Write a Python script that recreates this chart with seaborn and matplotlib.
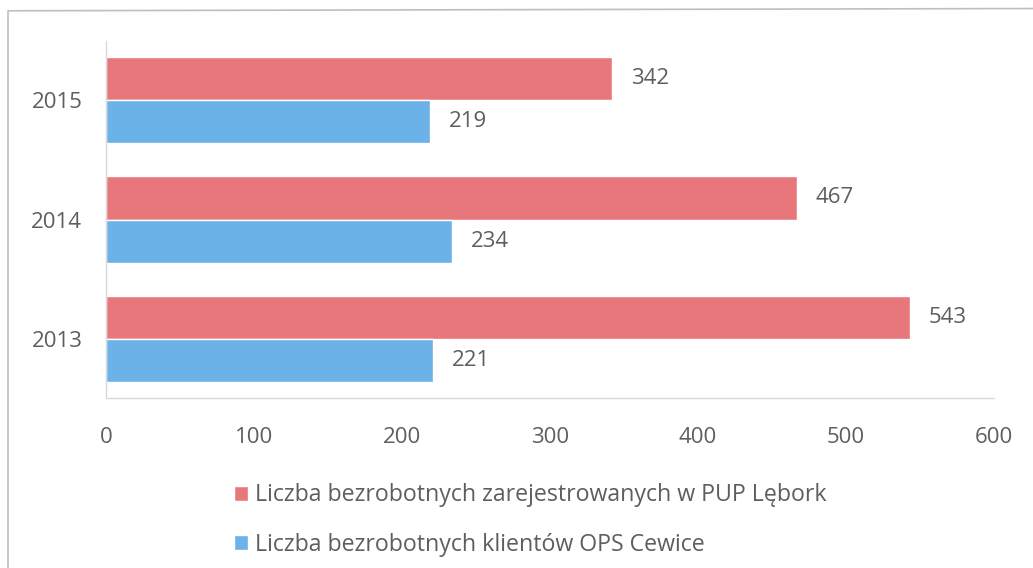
import matplotlib
matplotlib.use("Agg")
import matplotlib.pyplot as plt
import seaborn as sns
import pandas as pd
from matplotlib.lines import Line2D

years = ["2015", "2014", "2013"]
pup_values = [342, 467, 543]
ops_values = [219, 234, 221]
series_names = ["Liczba bezrobotnych zarejestrowanych w PUP Lębork",
                "Liczba bezrobotnych klientów OPS Cewice"]
x_ticks = [0, 100, 200, 300, 400, 500, 600]

df = pd.DataFrame({
    "year": years * 2,
    "value": pup_values + ops_values,
    "series": [series_names[0]] * 3 + [series_names[1]] * 3,
})

sns.set_theme(style="white")
plt.rcParams["font.family"] = ["Open Sans", "DejaVu Sans"]

fig = plt.figure(figsize=(10.33, 5.68), dpi=100)
ax = fig.add_axes([0.1026, 0.2993, 0.8597, 0.6285])

palette = ["#E8777C", "#6AB2E7"]
sns.barplot(data=df, x="value", y="year", hue="series", order=years,
            hue_order=series_names, palette=palette, orient="h",
            width=0.72, saturation=1, ax=ax, legend=True)

text_color = "#5E5E5E"
for cont in ax.containers:
    ax.bar_label(cont, labels=[f"{v:g}" for v in cont.datavalues],
                 padding=13.5, fontsize=16, color=text_color)

ax.set_xlim(0, 600)
ax.set_ylim(2.49, -0.49)
ax.set_xticks(x_ticks)
ax.set_xticklabels([str(t) for t in x_ticks])
ax.tick_params(axis="both", length=0, labelsize=16, labelcolor=text_color)
ax.tick_params(axis="x", pad=21)
ax.tick_params(axis="y", pad=17)
ax.set_xlabel("")
ax.set_ylabel("")
for side in ["top", "right"]:
    ax.spines[side].set_visible(False)
for side in ["left", "bottom"]:
    ax.spines[side].set_color("#D9D9D9")
    ax.spines[side].set_linewidth(1)

handles, labels = ax.get_legend_handles_labels()
ax.get_legend().remove()
fig.legend(handles, labels, loc="upper left", bbox_to_anchor=(0.2265, 0.149),
           frameon=False, fontsize=16.7, labelcolor=text_color,
           handlelength=0.62, handleheight=0.62, handletextpad=0.3,
           labelspacing=1.1, borderaxespad=0, borderpad=0)

# outer frame (top and left edges visible in the reference)
fig.add_artist(Line2D([0.008, 1.0], [0.981, 0.985], transform=fig.transFigure,
                      color="#BFBFBF", linewidth=1.2))
fig.add_artist(Line2D([0.008, 0.008], [0.0, 0.981], transform=fig.transFigure,
                      color="#BFBFBF", linewidth=1.2))

fig.savefig("out.png", dpi=100)
